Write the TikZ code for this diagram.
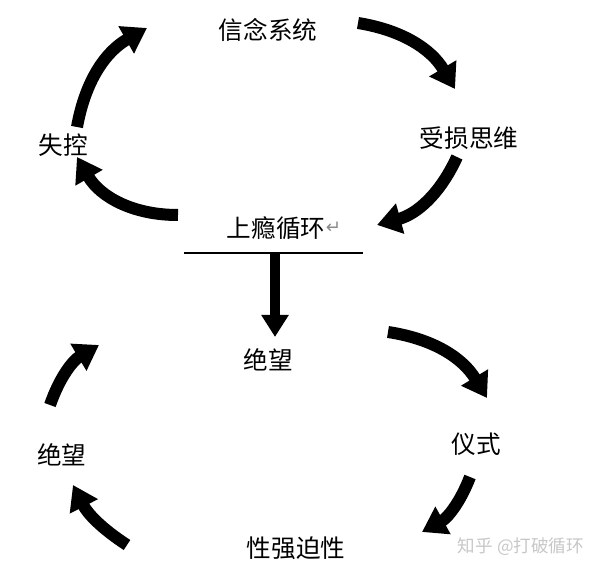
\documentclass[tikz,border=0pt]{standalone}
\usepackage{fontspec}
\usepackage{tikz}
\usetikzlibrary{arrows.meta}
\newfontfamily\cjk{Noto Sans CJK SC}
\newfontfamily\symfont{DejaVu Sans}
\tikzstyle{bigarrow} = [line width=0.3cm,-{Triangle[length=0.6cm,width=0.75cm]}]
\tikzstyle{droparrow} = [line width=0.25cm,-{Triangle[length=0.55cm,width=0.65cm]}]
\tikzstyle{word} = [font=\cjk\fontsize{17.5}{20}\selectfont,inner sep=0pt]

\begin{document}
\begin{tikzpicture}[x=0.025cm,y=0.025cm]
\useasboundingbox (0,0) rectangle (600,570);

\node[word] (belief) at (268,540) {信念系统};
\node[word] (impaired) at (469,432) {受损思维};
\node[word] (lossctl) at (63,425) {失控};
\node[word] (addict) at (276,342) {上瘾循环};
\node[inner sep=0pt,text=black!45,font=\symfont\fontsize{13}{14}\selectfont,anchor=west] (pmark) at (addict.east) {↵};
\node[word] (despair) at (268,210) {绝望};
\node[word] (ritual) at (476,126) {仪式};
\node[word] (compuls) at (296,22) {性强迫性};
\node[word] (despairL) at (62,115) {绝望};
\node[inner sep=0pt,text=black!22,font=\cjk\fontsize{12.5}{14}\selectfont] (wmark) at (521,23) {知乎 @打破循环};

\coordinate (barL) at (184,317);
\coordinate (barR) at (363,317);
\coordinate (barM) at (275,317);
\coordinate (drop) at (275,233);
\draw[line width=1.2pt] (barL) -- (barR);
\draw[droparrow] (barM) -- (drop);

\coordinate (s1) at (358,547); \coordinate (t1) at (455,481);
\coordinate (s2) at (457,413); \coordinate (t2) at (377,345);
\coordinate (s3) at (178,355); \coordinate (t3) at (77,413);
\coordinate (s4) at (77,443);  \coordinate (t4) at (147,542);
\coordinate (s6) at (388,238); \coordinate (t6) at (487,172);
\coordinate (s7) at (470,93);  \coordinate (t7) at (422,38);
\coordinate (s8) at (127,25);  \coordinate (t8) at (73,85);
\coordinate (s9) at (50,165);  \coordinate (t9) at (99,225);

\foreach \s/\t/\b in {s1/t1/25,s2/t2/25,s3/t3/30,s4/t4/25,s6/t6/25,s7/t7/20,s8/t8/15,s9/t9/20}
{
\draw[bigarrow] (\s) to[bend left=\b] (\t);
}
\end{tikzpicture}
\end{document}
